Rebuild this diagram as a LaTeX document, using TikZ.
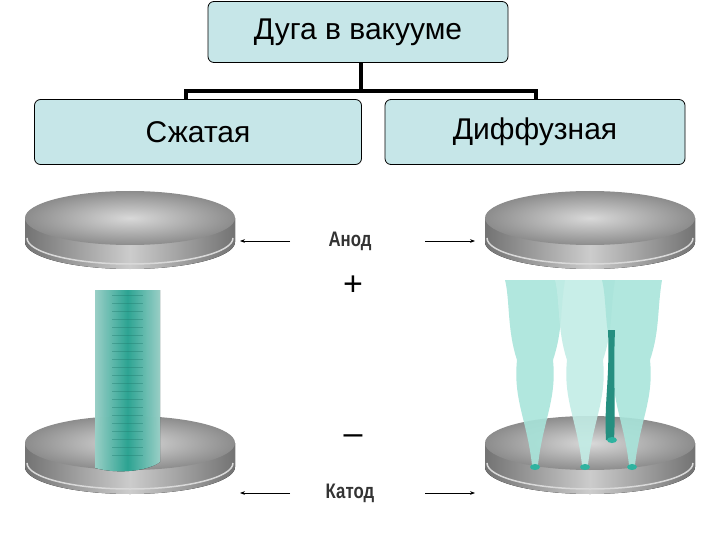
\documentclass[tikz,border=0pt]{standalone}
\usepackage{fontspec}
\setmainfont{Liberation Sans}
\newfontfamily\narrowf[FakeStretch=0.8]{Liberation Sans}
\usetikzlibrary{arrows.meta}
\definecolor{boxc}{HTML}{C6E6E8}
\definecolor{teal1}{HTML}{2FB3A0}
\definecolor{teal2}{HTML}{A8E4DA}
\tikzset{
  box/.style={draw=black, fill=boxc, rounded corners=6pt, line width=0.8pt, inner sep=0pt, font=\fontsize{30}{34}\selectfont},
  conn/.style={line width=3.5pt},
  lbl/.style={font=\narrowf\bfseries\fontsize{21}{24}\selectfont, text=black!80},
  arr/.style={-{Stealth[length=5pt]}, line width=0.9pt},
}
\newcommand{\disc}[2]{%
  \fill[left color=black!55, right color=black!55, middle color=black!20] (#1-105,#2) -- (#1-105,#2+24) arc[start angle=180,end angle=0,x radius=105,y radius=27] -- (#1+105,#2) -- cycle;
  \draw[black!15, line width=1.5pt] (#1-103,#2+20) arc[start angle=180,end angle=0,x radius=103,y radius=26];
  \shade[inner color=black!15, outer color=black!45] (#1,#2) ellipse[x radius=105,y radius=27];}
\begin{document}
\begin{tikzpicture}[x=1pt,y=-1pt]
\useasboundingbox (0,0) rectangle (720,540);
\node[box, minimum width=300pt, minimum height=61pt] (top) at (358,32) {Дуга в вакууме};
\node[box, minimum width=327pt, minimum height=65pt] (l) at (198,132) {Сжатая};
\node[box, minimum width=300pt, minimum height=65pt] (r) at (535,132) {Диффузная};
\coordinate (j) at (361,91);
\draw[conn] (top.south -| j) -- (j);
\draw[conn] (186,100) -- (186,91) -- (536,91) -- (536,100);
% left electrodes
\disc{130}{443}
\fill[left color=teal2, right color=teal2, middle color=teal1, opacity=0.9] (95,290) -- (160,290) -- (160,462) .. controls (150,470) and (120,475) .. (95,468) -- cycle;
\foreach \yy in {295,303,...,460} \draw[teal1!70!black, opacity=0.4, line width=1pt] (112,\yy) -- (143,\yy);
\disc{130}{218}
% right electrodes
\disc{590}{443}
\foreach \xx/\c in {535/teal2,585/teal2!70!white,632/teal2}{
  \fill[\c, opacity=0.9] (\xx-3,465) .. controls (\xx-8,420) and (\xx-22,400) .. (\xx-18,360) .. controls (\xx-28,330) and (\xx-25,300) .. (\xx-30,280) -- (\xx+30,280) .. controls (\xx+25,310) and (\xx+28,330) .. (\xx+18,360) .. controls (\xx+22,400) and (\xx+8,420) .. (\xx+3,465) -- cycle;
  \fill[teal1] (\xx,467) ellipse[x radius=5,y radius=3];
}
\fill[teal1!80!black] (606,440) .. controls (604,400) and (610,380) .. (608,330) -- (615,330) .. controls (613,380) and (616,400) .. (614,440) -- cycle;
\fill[teal1] (612,440) ellipse[x radius=5,y radius=3];
\disc{590}{218}
% labels
\node[lbl] (an) at (350,241) {Анод};
\node[font=\fontsize{34}{38}\selectfont] (plus) at (353,286) {+};
\node[font=\fontsize{34}{38}\selectfont] (minus) at (353,440) {–};
\node[lbl] (ka) at (350,493) {Катод};
\coordinate (a1) at (240,241); \coordinate (a2) at (475,241);
\coordinate (k1) at (240,493); \coordinate (k2) at (475,493);
\draw[arr] (290,241) -- (a1);
\draw[arr] (425,241) -- (a2);
\draw[arr] (290,493) -- (k1);
\draw[arr] (425,493) -- (k2);
\end{tikzpicture}
\end{document}
